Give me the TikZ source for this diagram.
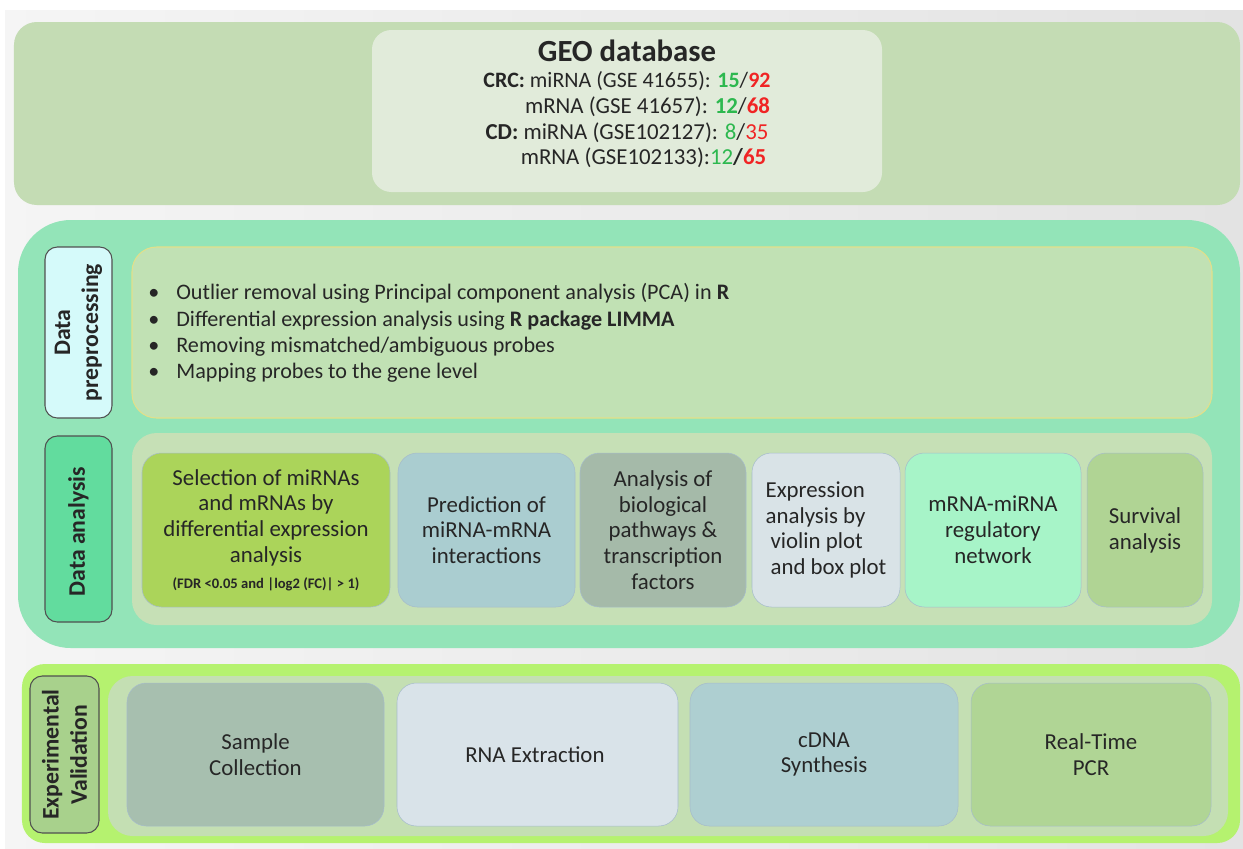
\documentclass[tikz,border=0pt]{standalone}
\usepackage{fontspec}
\setmainfont{Carlito}
\usetikzlibrary{positioning}
\usepackage{xcolor}

\definecolor{geopanel}{HTML}{C4DCB4}
\definecolor{geobox}{HTML}{E1EBDA}
\definecolor{midpanel}{HTML}{93E4B8}
\definecolor{preplabel}{HTML}{D5FAFA}
\definecolor{analabel}{HTML}{62DC9E}
\definecolor{prepbox}{HTML}{C1E1B4}
\definecolor{prepline}{HTML}{E2E08A}
\definecolor{anabox}{HTML}{C6E0B6}
\definecolor{selfill}{HTML}{ABD45A}
\definecolor{predfill}{HTML}{AACDD0}
\definecolor{pathfill}{HTML}{A5BAA9}
\definecolor{exprfill}{HTML}{D9E3E7}
\definecolor{netfill}{HTML}{A7F4C8}
\definecolor{survfill}{HTML}{B0D494}
\definecolor{botpanel}{HTML}{B5F26F}
\definecolor{botbox}{HTML}{C4DFB3}
\definecolor{explabel}{HTML}{A8D18C}
\definecolor{samplefill}{HTML}{A7BFAF}
\definecolor{rnafill}{HTML}{D9E3E9}
\definecolor{cdnafill}{HTML}{AECFD1}
\definecolor{pcrfill}{HTML}{B0D595}
\definecolor{numgreen}{HTML}{2DB84F}
\definecolor{numred}{HTML}{F02424}
\definecolor{textgray}{HTML}{262626}
\definecolor{boxline}{HTML}{A6BCCB}
\definecolor{labelline}{HTML}{505050}

\begin{document}
\begin{tikzpicture}[every node/.style={
    rectangle,
    rounded corners=11pt,
    inner sep=2pt,
    align=center,
    text=textgray,
    font=\fontsize{13}{14.7}\selectfont
},
panel/.style={draw=none, minimum height=1cm},
sidelabel/.style={draw=labelline, line width=0.6pt, rounded corners=7pt, font=\fontsize{13.5}{16}\selectfont\bfseries},
stepbox/.style={draw=boxline, line width=0.3pt}]
    \useasboundingbox (0,0) rectangle (24.86,-16.96);
    \fill[white] (0,0) rectangle (24.86,-16.96);
    \shade[left color=black!4, right color=black!11] (0.1,-0.2) rectangle (24.86,-16.96);



    \node (geo_panel) [panel, fill=geopanel, rounded corners=13pt, minimum width=24.52cm, minimum height=3.66cm, shift={(12.54,-2.27)}]
    {};
    \node (geo_box) [panel, fill=geobox, minimum width=10.2cm, minimum height=3.24cm, shift={(12.54,-2.22)}]
    {};
    \node (geo_text) [shift={(12.54,-2.08)}]
    {
        {\fontsize{17.5}{20}\selectfont\bfseries GEO database}\\[0pt]
        \fontsize{12.5}{15.6}\selectfont
        \textbf{CRC:} miRNA (GSE 41655): \textbf{\textcolor{numgreen}{15}}/\textbf{\textcolor{numred}{92}}\\
        \hspace{0.82cm}mRNA (GSE 41657): \textbf{\textcolor{numgreen}{12}}/\textbf{\textcolor{numred}{68}}\\
        \textbf{CD:} miRNA (GSE102127): \textcolor{numgreen}{8}/\textcolor{numred}{35}\\
        \hspace{0.66cm}mRNA (GSE102133):\textcolor{numgreen}{12}\textbf{/\textcolor{numred}{65}}
    };



    \node (analysis_panel) [panel, fill=midpanel, rounded corners=30pt, minimum width=24.44cm, minimum height=8.56cm, shift={(12.58,-8.68)}]
    {};
    \node (data_preprocessing) [sidelabel, fill=preplabel, minimum width=3.42cm, minimum height=1.34cm, shift={(1.57,-6.65)}, rotate=90]
    {
        Data\\preprocessing
    };
    \node (data_analysis) [sidelabel, fill=analabel, minimum width=3.72cm, minimum height=1.34cm, shift={(1.57,-10.58)}, rotate=90]
    {
        Data analysis
    };
    \node (preprocessing_box) [panel, fill=prepbox, draw=prepline, line width=0.6pt, rounded corners=14pt, minimum width=21.6cm, minimum height=3.42cm, shift={(13.44,-6.65)}]
    {};
    \node (preprocessing_steps) [anchor=west, align=left, inner sep=0pt, font=\fontsize{12.6}{14.9}\selectfont, shift={(2.96,-6.66)}]
    {
        \makebox[0.56cm][l]{\textbullet}Outlier removal using Principal component analysis (PCA) in \textbf{R}\\
        \makebox[0.56cm][l]{\textbullet}Differential expression analysis using \textbf{R package LIMMA}\\
        \makebox[0.56cm][l]{\textbullet}Removing mismatched/ambiguous probes\\
        \makebox[0.56cm][l]{\textbullet}Mapping probes to the gene level
    };
    \node (analysis_box) [panel, fill=anabox, rounded corners=14pt, minimum width=21.6cm, minimum height=3.84cm, shift={(13.44,-10.58)}]
    {};



    \node (selection) [stepbox, fill=selfill, minimum width=4.96cm, minimum height=3.08cm, shift={(5.32,-10.6)}]
    {
        Selection of miRNAs\\and mRNAs by\\differential expression\\analysis\\
        {\fontsize{8.3}{10}\selectfont\bfseries (FDR <0.05 and |log2 (FC)| > 1)}
    };
    \node (prediction) [stepbox, fill=predfill, minimum width=3.54cm, minimum height=3.08cm, shift={(9.73,-10.6)}]
    {
        Prediction of\\miRNA-mRNA\\interactions
    };
    \node (pathways) [stepbox, fill=pathfill, minimum width=3.32cm, minimum height=3.08cm, shift={(13.26,-10.6)}]
    {
        Analysis of\\biological\\pathways \&\\transcription\\factors
    };
    \node (violin_plot) [stepbox, fill=exprfill, align=left, minimum width=2.96cm, minimum height=3.08cm, shift={(16.52,-10.6)}]
    {
        Expression\\analysis by\\\hspace{0.1cm}violin plot\\\hspace{0.1cm}and box plot
    };
    \node (regulatory_network) [stepbox, fill=netfill, minimum width=3.52cm, minimum height=3.08cm, shift={(19.86,-10.6)}]
    {
        mRNA-miRNA\\regulatory\\network
    };
    \node (survival) [stepbox, fill=survfill, minimum width=2.32cm, minimum height=3.08cm, shift={(22.9,-10.6)}]
    {
        Survival\\analysis
    };



    \node (validation_panel) [panel, fill=botpanel, rounded corners=13pt, minimum width=24.36cm, minimum height=3.58cm, shift={(12.62,-15.07)}]
    {};
    \node (validation_box) [panel, fill=botbox, rounded corners=14pt, minimum width=22.4cm, minimum height=3.2cm, shift={(13.36,-15.12)}]
    {};
    \node (experimental_validation) [sidelabel, fill=explabel, minimum width=3.14cm, minimum height=1.38cm, shift={(1.29,-15.09)}, rotate=90]
    {
        Experimental\\Validation
    };
    \node (sample_collection) [stepbox, fill=samplefill, minimum width=5.14cm, minimum height=2.86cm, shift={(5.11,-15.09)}]
    {
        Sample\\Collection
    };
    \node (rna_extraction) [stepbox, fill=rnafill, minimum width=5.62cm, minimum height=2.86cm, shift={(10.75,-15.09)}]
    {
        RNA Extraction
    };
    \node (cdna_synthesis) [stepbox, fill=cdnafill, minimum width=5.36cm, minimum height=2.86cm, shift={(16.48,-15.09)}]
    {
        cDNA\\Synthesis
    };
    \node (real_time_pcr) [stepbox, fill=pcrfill, minimum width=4.8cm, minimum height=2.86cm, shift={(21.82,-15.09)}]
    {
        Real-Time\\PCR
    };


\end{tikzpicture}
\end{document}
